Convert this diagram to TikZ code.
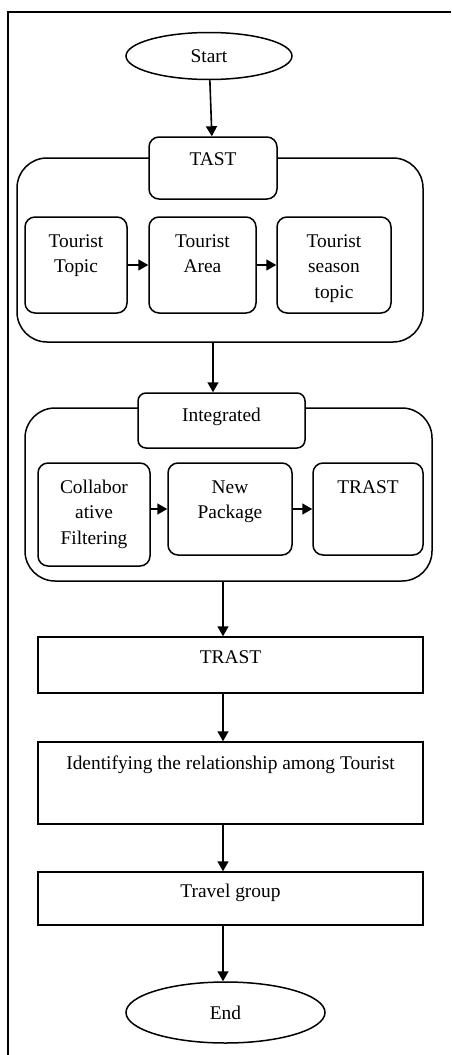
\documentclass[tikz,border=0pt]{standalone}
\usepackage{fontspec}
\setmainfont{Liberation Serif}
\usetikzlibrary{arrows.meta,shapes.geometric}
\newcommand\boxtext[4]{\parbox[c][#2pt][t]{#1pt}{\centering\rule{0pt}{#3pt}#4}}
\begin{document}
\begin{tikzpicture}[x=1pt,y=-1pt,
  every node/.style={font=\fontsize{19.4}{25.5}\selectfont,inner sep=0pt},
  rbox/.style={draw,line width=1.5pt,rounded corners=10pt,fill=white},
  bigbox/.style={draw,line width=1.5pt,rounded corners=30pt},
  hbox/.style={draw,line width=1.5pt,rounded corners=8pt,fill=white},
  sbox/.style={draw,line width=1.5pt,fill=white},
  oval/.style={draw,ellipse,line width=1.5pt},
  arr/.style={line width=1.6pt,-{Triangle[length=10pt,width=11pt]}},
  frame/.style={line width=1.7pt}
]
\useasboundingbox (0,0) rectangle (451,1055);
\draw[frame] (451,11.7) -- (8,11.7) -- (8,1055);

\node[oval,minimum width=166pt,minimum height=47pt] (start) at (209,56) {Start};

\node[bigbox,minimum width=406pt,minimum height=184pt] (o1) at (220,250) {};
\node[rbox] (tast) at (213,168) {\boxtext{128}{62}{28}{TAST}};
\node[rbox] (tt) at (76,265) {\boxtext{102}{96}{30}{Tourist\\Topic}};
\node[rbox] (ta) at (202.5,265) {\boxtext{107}{96}{30}{Tourist\\Area}};
\node[rbox] (ts) at (334,265) {\boxtext{114}{96}{30}{Tourist\\season\\topic}};

\node[bigbox,minimum width=407pt,minimum height=173pt] (o2) at (228.5,494.5) {};
\node[hbox] (integ) at (221.5,420.5) {\boxtext{167}{55}{28}{Integrated}};
\node[rbox] (cf) at (94,514.5) {\boxtext{112}{103}{30}{Collabor\\ative\\Filtering}};
\node[rbox] (np) at (230,509) {\boxtext{124}{92}{30}{New\\Package}};
\node[rbox] (tr) at (368,509) {\boxtext{110}{92}{30}{TRAST}};

\node[sbox] (trast) at (230.5,665) {\boxtext{385}{56}{26}{TRAST}};
\node[sbox] (ident) at (230.5,783) {\boxtext{385}{82}{27}{Identifying the relationship among Tourist}};
\node[sbox] (travel) at (230.5,898.5) {\boxtext{385}{53}{25}{Travel group}};
\node[oval,minimum width=199pt,minimum height=61pt] (end) at (225.5,1012.5) {End};

\draw[arr] (start) -- (tast);
\draw[arr] (tt) -- (ta);
\draw[arr] (ta) -- (ts);
\draw[arr] ([xshift=-7pt]o1.south) -- ([xshift=-8.5pt]integ.north);
\draw[arr] (cf.east |- np.west) -- (np.west);
\draw[arr] (np) -- (tr);
\draw[arr] ([xshift=-5.5pt]o2.south) -- ([xshift=-7.5pt]trast.north);
\draw[arr] ([xshift=-7.5pt]trast.south) -- ([xshift=-7.5pt]ident.north);
\draw[arr] ([xshift=-7.5pt]ident.south) -- ([xshift=-7.5pt]travel.north);
\draw[arr] ([xshift=-7.5pt]travel.south) -- ([xshift=-2.5pt]end.north);
\end{tikzpicture}
\end{document}
